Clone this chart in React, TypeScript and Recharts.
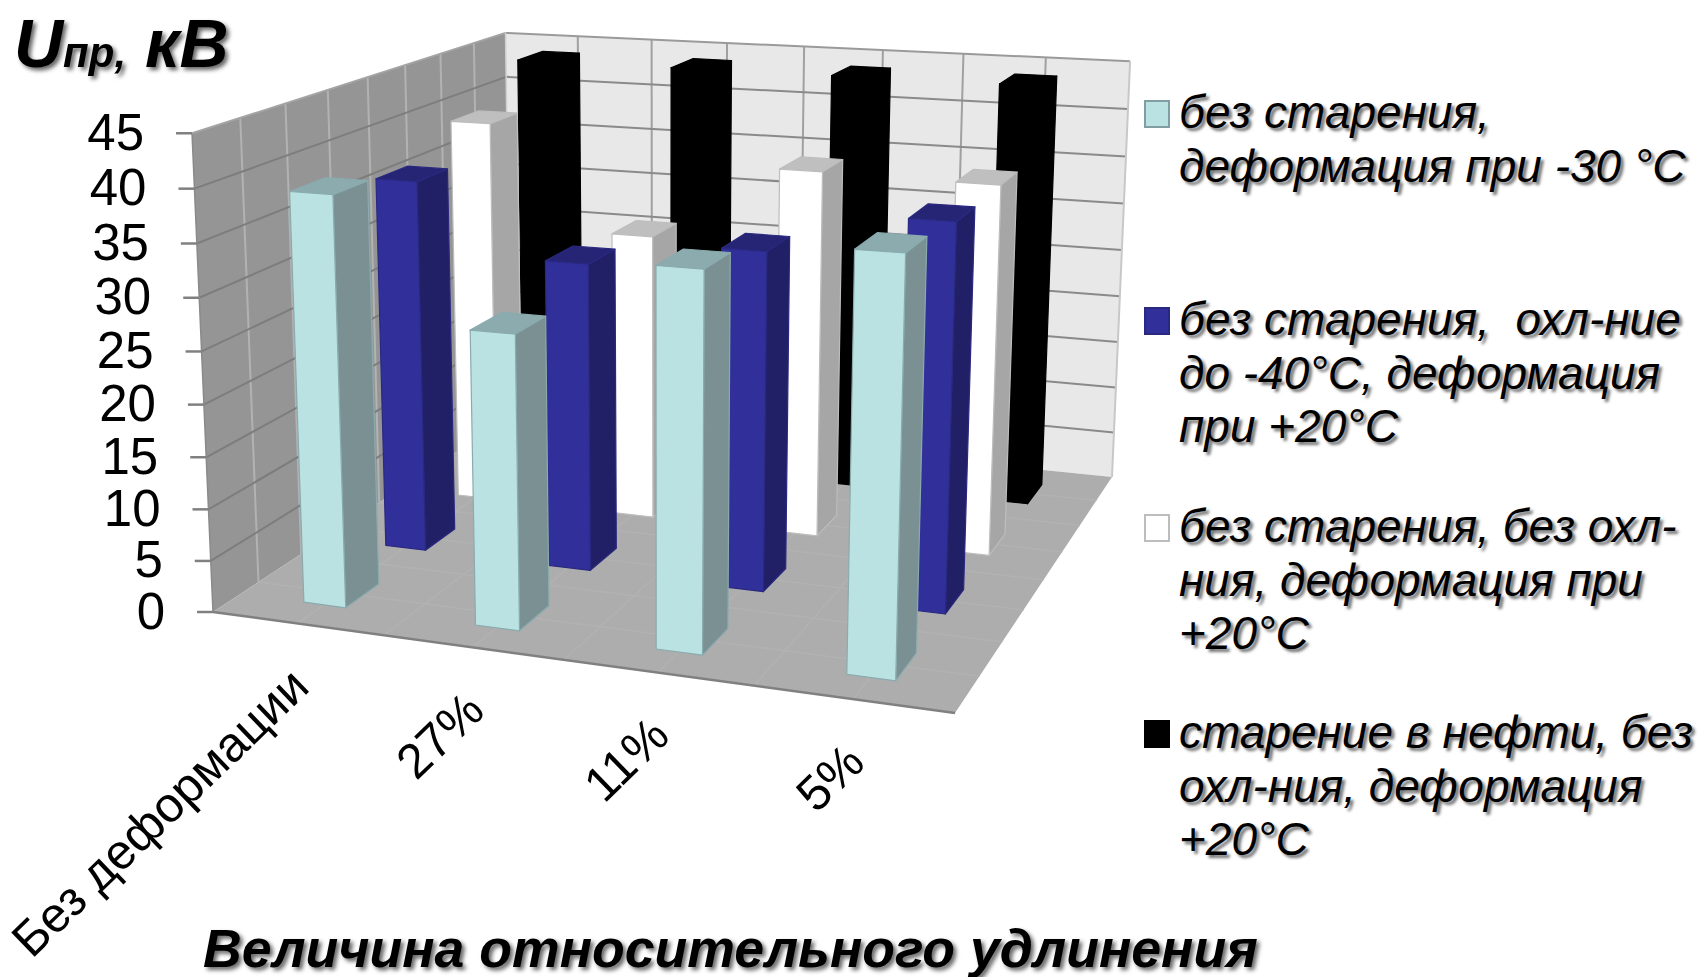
import React from "react";
import { BarChart, Bar, XAxis, YAxis, Legend, Customized } from "recharts";

// Chart data: breakdown voltage by relative elongation and treatment
const categories = ["Без деформации", "27%", "11%", "5%"];
const noAgingCold = [39.2, 27.8, 35, 37.7];
const noAgingCooled = [37.2, 30.4, 32.9, 36.9];
const noAgingWarm = [40, 29.5, 37.2, 37];
const oilAged = [43.9, 43.9, 43.9, 43.9];
const yTicks = [0, 5, 10, 15, 20, 25, 30, 35, 40, 45];
const yMax = 45;

const seriesNames = [
  "без старения,\nдеформация при -30 °С",
  "без старения,  охл-ние\nдо -40°С, деформация\nпри +20°С",
  "без старения, без охл-\nния, деформация при\n+20°С",
  "старение в нефти, без\nохл-ния, деформация\n+20°С",
];

const rows = categories.map((category, i) => ({
  category,
  noAgingCold: noAgingCold[i],
  noAgingCooled: noAgingCooled[i],
  noAgingWarm: noAgingWarm[i],
  oilAged: oilAged[i],
}));

const W = 1701;
const H = 977;
const PLOT = { left: 350, top: 200, width: 1000, height: 500 };
const FONT = "'Liberation Sans', Arial, sans-serif";
const SHADOW = "drop-shadow(3px 3px 2px rgba(0,0,0,0.6))";

// Perspective camera: floor corners on screen, the vanishing point of verticals,
// and the foreshortening of the value axis.
const FL = [213, 612];
const FR = [955, 713];
const BR = [1112, 477];
const BL = [511, 416];
const VANISH = [661, 10843];
const LIFT = -0.0447;

const sx = FL[0] - FR[0] + BR[0] - BL[0];
const sy = FL[1] - FR[1] + BR[1] - BL[1];
const dx1 = FR[0] - BR[0];
const dx2 = BL[0] - BR[0];
const dy1 = FR[1] - BR[1];
const dy2 = BL[1] - BR[1];
const det = dx1 * dy2 - dx2 * dy1;
const G = (sx * dy2 - dx2 * sy) / det;
const K = (dx1 * sy - sx * dy1) / det;

type Pt = [number, number];

// u runs along the categories, w into the depth, h up the value axis; all 0..1
function project(u: number, w: number, h: number): Pt {
  const base = 1 + G * u + K * w;
  const nx = FL[0] + (FR[0] - FL[0] + G * FR[0]) * u + (BL[0] - FL[0] + K * BL[0]) * w;
  const ny = FL[1] + (FR[1] - FL[1] + G * FR[1]) * u + (BL[1] - FL[1] + K * BL[1]) * w;
  const k = LIFT * h;
  return [(nx + k * VANISH[0]) / (base + k), (ny + k * VANISH[1]) / (base + k)];
}

const pts = (list: Pt[]) => list.map((p) => `${p[0].toFixed(1)},${p[1].toFixed(1)}`).join(" ");

function seg(a: Pt, b: Pt, stroke: string, strokeWidth = 2, key?: React.Key) {
  return <line key={key} x1={a[0]} y1={a[1]} x2={b[0]} y2={b[1]} stroke={stroke} strokeWidth={strokeWidth} />;
}

const EIGHTHS = [1, 2, 3, 4, 5, 6, 7];

// Left wall, back wall and floor with their grid; level lines follow the value ticks
function Walls() {
  const levels = yTicks.filter((t) => t > 0 && t < yMax).map((t) => t / yMax);
  return (
    <g>
      <polygon points={pts([project(0, 0, 0), project(0, 1, 0), project(0, 1, 1), project(0, 0, 1)])} fill="#959595" />
      <polygon points={pts([project(0, 1, 0), project(1, 1, 0), project(1, 1, 1), project(0, 1, 1)])} fill="#e8e8e8" />
      <polygon points={pts([project(0, 0, 0), project(1, 0, 0), project(1, 1, 0), project(0, 1, 0)])} fill="#adadad" />
      {EIGHTHS.map((n) => seg(project(0, n / 8, 0), project(0, n / 8, 1), "#b2b2b2", 2, `lw${n}`))}
      {EIGHTHS.map((n) => seg(project(n / 8, 1, 0), project(n / 8, 1, 1), "#a0a0a0", 2, `bw${n}`))}
      {EIGHTHS.map((n) => seg(project(n / 8, 0, 0), project(n / 8, 1, 0), "#b2b2b2", 1.5, `fu${n}`))}
      {EIGHTHS.map((n) => seg(project(0, n / 8, 0), project(1, n / 8, 0), "#b2b2b2", 1.5, `fw${n}`))}
      {levels.map((h) => seg(project(0, 0, h), project(0, 1, h), "#7d7d7d", 2, `ll${h}`))}
      {levels.map((h) => seg(project(0, 1, h), project(1, 1, h), "#8a8a8a", 2, `bl${h}`))}
      {seg(project(0, 0, 0), project(1, 0, 0), "#808080", 2.5)}
      {seg(project(0, 0, 0), project(0, 0, 1), "#8a8a8a", 1.5)}
      {seg(project(0, 0, 1), project(0, 1, 1), "#a4a4a4", 2)}
      {seg(project(0, 1, 1), project(1, 1, 1), "#9a9a9a", 2)}
      {seg(project(1, 1, 0), project(1, 1, 1), "#c8c8c8", 2)}
      {seg(project(0, 1, 1), project(0, 1, 0), "#d0d0d0", 1.5)}
    </g>
  );
}

function ValueTick(props: any) {
  const h = (PLOT.top + PLOT.height - props.y) / PLOT.height;
  const [x, y] = project(0, 0, h);
  return (
    <g>
      <line x1={x - 16} y1={y} x2={x} y2={y} stroke="#808080" strokeWidth={2.5} />
      <text x={x - 48} y={y + 16.5} textAnchor="end" fontFamily={FONT} fontSize={51} fill="#000">
        {props.payload.value}
      </text>
    </g>
  );
}

function CategoryTick(props: any) {
  const u = (props.x - PLOT.left) / PLOT.width;
  const [x, y] = project(u, 0, 0);
  return (
    <text
      transform={`translate(${x + 14} ${y + 66}) rotate(-44)`}
      textAnchor="end"
      fontFamily={FONT}
      fontSize={49}
      fill="#000"
    >
      {props.payload.value}
    </text>
  );
}

type Faces = { front: string; side: string; top: string; edge: string };

const BAR_DEPTH = 0.05;
const BAR_NUDGE = 0.0015;

// Turns the flat bar rectangle that the chart lays out into a projected box
function Box(props: any, rowCentre: number, faces: Faces) {
  const u0 = (props.x - PLOT.left) / PLOT.width + BAR_NUDGE;
  const u1 = u0 + props.width / PLOT.width;
  const h = props.height / PLOT.height;
  const w0 = rowCentre - BAR_DEPTH;
  const w1 = rowCentre + BAR_DEPTH;
  const stroke = { stroke: faces.edge, strokeWidth: 1.2, strokeLinejoin: "round" as const };
  return (
    <g>
      <polygon
        points={pts([project(u1, w0, 0), project(u1, w1, 0), project(u1, w1, h), project(u1, w0, h)])}
        fill={faces.side}
        {...stroke}
      />
      <polygon
        points={pts([project(u0, w0, h), project(u1, w0, h), project(u1, w1, h), project(u0, w1, h)])}
        fill={faces.top}
        {...stroke}
      />
      <polygon
        points={pts([project(u0, w0, 0), project(u1, w0, 0), project(u1, w0, h), project(u0, w0, h)])}
        fill={faces.front}
        {...stroke}
      />
    </g>
  );
}

const CYAN: Faces = { front: "#bae2e3", side: "#7a9093", top: "#8babaf", edge: "#8aabae" };
const BLUE: Faces = { front: "#31309a", side: "#212066", top: "#252475", edge: "#2a2980" };
const WHITE: Faces = { front: "#ffffff", side: "#a6a6a6", top: "#bfbfbf", edge: "#bdbdbd" };
const BLACK: Faces = { front: "#000000", side: "#000000", top: "#000000", edge: "#000000" };

const swatches = [
  { fill: CYAN.front, border: "#7f9fa2" },
  { fill: BLUE.front, border: "#2a2980" },
  { fill: WHITE.front, border: "#bdbdbd" },
  { fill: BLACK.front, border: "#000000" },
];
const legendTops = [86, 293, 500, 706];

function LegendBlock() {
  return (
    <div style={{ position: "absolute", left: 0, top: 0, width: 0, height: 0 }}>
      {seriesNames.map((name, i) => (
        <div key={name}>
          <div
            style={{
              position: "absolute",
              left: 1144,
              top: legendTops[i] + 14,
              width: 22,
              height: 24,
              background: swatches[i].fill,
              border: `2px solid ${swatches[i].border}`,
            }}
          />
          <div
            style={{
              position: "absolute",
              left: 1179,
              top: legendTops[i],
              whiteSpace: "pre",
              fontFamily: FONT,
              fontStyle: "italic",
              fontSize: 46,
              lineHeight: "53.5px",
              color: "#000",
              textShadow: "3px 3px 3px rgba(0,0,0,0.55)",
            }}
          >
            {name}
          </div>
        </div>
      ))}
    </div>
  );
}

function Titles() {
  return (
    <g fontFamily={FONT} fontWeight="bold" fontStyle="italic" fill="#000" style={{ filter: SHADOW }}>
      <text x={14} y={67} fontSize={68}>
        U<tspan fontSize={42}>пр,</tspan> кВ
      </text>
      <text x={203} y={966.5} fontSize={53.6}>
        Величина относительного удлинения
      </text>
    </g>
  );
}

export default function App() {
  return (
    <div style={{ position: "absolute", left: 0, top: 0, width: W, height: H, background: "#fff" }}>
      <BarChart
        width={W}
        height={H}
        data={rows}
        barSize={62}
        barGap={-62}
        margin={{
          left: PLOT.left - 1,
          top: PLOT.top,
          right: W - PLOT.left - PLOT.width,
          bottom: H - PLOT.top - PLOT.height - 1,
        }}
      >
        <Customized component={<Walls />} />
        <XAxis dataKey="category" height={1} axisLine={false} tickLine={false} interval={0} tick={<CategoryTick />} />
        <YAxis
          width={1}
          domain={[0, yMax]}
          ticks={yTicks}
          interval={0}
          axisLine={false}
          tickLine={false}
          tick={<ValueTick />}
        />
        <Legend
          content={<LegendBlock />}
          wrapperStyle={{ position: "absolute", left: 0, top: 0, width: 0, height: 0 }}
        />
        <Bar dataKey="oilAged" name={seriesNames[3]} isAnimationActive={false} shape={(p: any) => Box(p, 0.875, BLACK)} />
        <Bar dataKey="noAgingWarm" name={seriesNames[2]} isAnimationActive={false} shape={(p: any) => Box(p, 0.625, WHITE)} />
        <Bar dataKey="noAgingCooled" name={seriesNames[1]} isAnimationActive={false} shape={(p: any) => Box(p, 0.375, BLUE)} />
        <Bar dataKey="noAgingCold" name={seriesNames[0]} isAnimationActive={false} shape={(p: any) => Box(p, 0.125, CYAN)} />
        <Customized component={<Titles />} />
      </BarChart>
    </div>
  );
}
